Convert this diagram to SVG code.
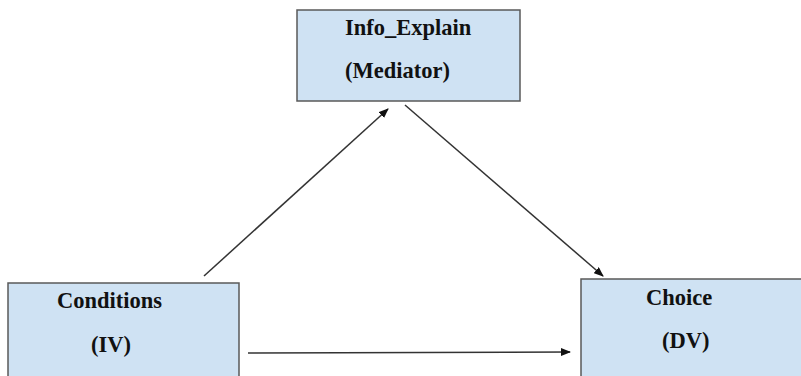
<svg xmlns="http://www.w3.org/2000/svg" width="801" height="376" viewBox="0 0 801 376">
<style>
.box{fill:#cfe2f3;stroke:#595959;stroke-width:1.5}
.lbl{font-family:"Liberation Serif","Times New Roman",serif;font-weight:bold;font-size:22.5px;fill:#111}
.conn{stroke:#333;stroke-width:1.5;fill:none;marker-end:url(#arr)}
</style>
<defs>
<marker id="arr" markerWidth="10" markerHeight="8" refX="9" refY="4" orient="auto" markerUnits="userSpaceOnUse">
<path d="M0,0 L10,4 L0,8 Z" fill="#111"/>
</marker>
</defs>
<rect width="801" height="376" fill="#fff"/>
<g id="mediator">
<rect class="box" x="297" y="10" width="223" height="91"/>
<text class="lbl" x="345" y="35">Info_Explain</text>
<text class="lbl" x="345" y="78">(Mediator)</text>
</g>
<g id="conditions">
<rect class="box" x="8" y="283" width="231" height="100"/>
<text class="lbl" x="57" y="308">Conditions</text>
<text class="lbl" x="91" y="352">(IV)</text>
</g>
<g id="choice">
<rect class="box" x="581" y="279" width="230" height="110"/>
<text class="lbl" x="646" y="305">Choice</text>
<text class="lbl" x="662" y="348">(DV)</text>
</g>
<g id="connectors">
<line class="conn" x1="204" y1="276" x2="388" y2="109"/>
<line class="conn" x1="405" y1="105" x2="603" y2="276"/>
<line class="conn" x1="248" y1="353" x2="570" y2="352"/>
</g>
</svg>
